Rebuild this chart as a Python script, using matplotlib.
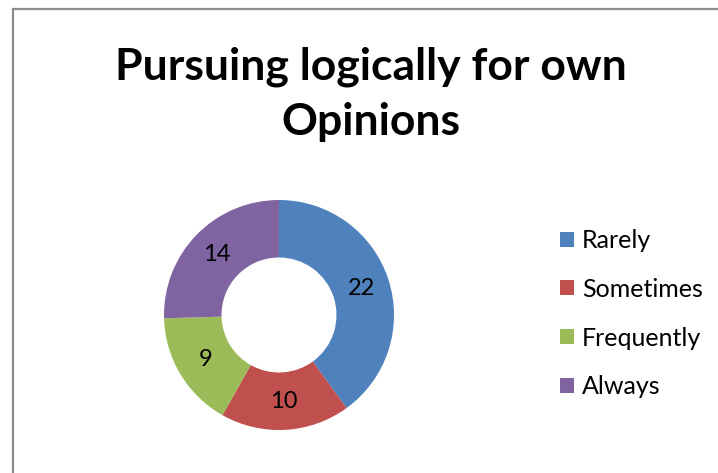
import matplotlib
matplotlib.use("Agg")
import matplotlib.pyplot as plt
from matplotlib.patches import Rectangle

# chart data
categories = ["Rarely", "Sometimes", "Frequently", "Always"]
counts = [22, 10, 9, 14]
colors = ["#4f81bd", "#c0504d", "#9bbb59", "#8064a2"]
title = "Pursuing logically for own\nOpinions"

plt.rcParams['font.family'] = ['Lato', 'DejaVu Sans']

W, H = 718, 473
fig = plt.figure(figsize=(W / 100, H / 100), dpi=100)

# outer border of the chart area
fig.patches.append(Rectangle((13 / W, -0.05), 1.2, 1 - 9 / H + 0.05, transform=fig.transFigure,
                             fill=False, edgecolor="#8c8c8c", linewidth=1.6))

fig.text(371 / W, 1 - 94 / H, title, ha="center", va="center", fontsize=32,
         fontweight="bold", linespacing=1.45)

cx, cy, r = 279, 315, 115
ax = fig.add_axes([(cx - r) / W, (H - cy - r) / H, 2 * r / W, 2 * r / H])
wedges, texts = ax.pie(counts, colors=colors, startangle=90, counterclock=False,
                       radius=1, wedgeprops=dict(width=0.5, linewidth=0),
                       labels=[str(c) for c in counts], labeldistance=0.75,
                       textprops=dict(fontsize=17, ha="center", va="center"))
ax.set_xlim(-1, 1)
ax.set_ylim(-1, 1)

leg = fig.legend(wedges, categories, loc="upper left", bbox_to_anchor=(560 / W, 1 - 229 / H),
                 frameon=False, fontsize=18, handlelength=0.55, handleheight=0.55,
                 handletextpad=0.32, labelspacing=1.03, borderpad=0, borderaxespad=0)

fig.savefig("out.png", dpi=100)
